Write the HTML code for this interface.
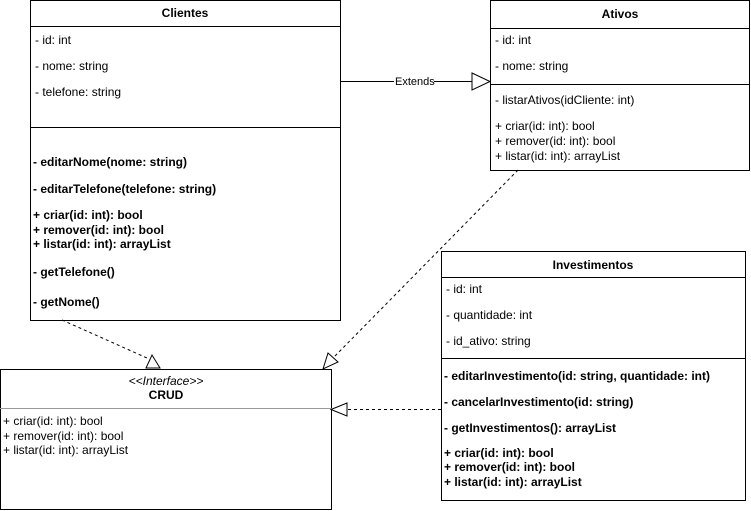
<!DOCTYPE html>
<html><head><meta charset="utf-8"><style>
body{margin:0;background:#fff}
svg{display:block}
text{font-family:"Liberation Sans",Arial,sans-serif;font-size:12px;fill:#000}
.b{font-weight:bold}
</style></head><body>
<svg width="751" height="511" viewBox="0 0 751 511">
<g fill="#fff" stroke="#000" stroke-width="1">
<rect x="30.5" y="0.5" width="310" height="320"/>
<line x1="30" y1="26.5" x2="341" y2="26.5"/>
<line x1="30" y1="127.5" x2="341" y2="127.5"/>
<rect x="490.5" y="0.5" width="259" height="170"/>
<line x1="490" y1="28.5" x2="750" y2="28.5"/>
<line x1="490" y1="84.5" x2="750" y2="84.5"/>
<rect x="441.5" y="251.5" width="304" height="249"/>
<line x1="441" y1="277.5" x2="746" y2="277.5"/>
<line x1="441" y1="358.5" x2="746" y2="358.5"/>
<rect x="0.5" y="369.5" width="331" height="140"/>
</g>
<line x1="0" y1="408.5" x2="332" y2="408.5" stroke="#999"/>
<line x1="340" y1="81.5" x2="472" y2="81.5" stroke="#000"/>
<polygon points="472,73 490,81.5 472,90" fill="#fff" stroke="#000"/>
<rect x="394" y="75" width="40" height="12" fill="#fff"/>
<text x="395" y="85" style="font-size:11px">Extends</text>
<g stroke="#000" stroke-dasharray="3,3" fill="none">
<line x1="62" y1="320" x2="147" y2="358"/>
<line x1="518" y1="170" x2="334" y2="357"/>
<line x1="441" y1="409.5" x2="347" y2="409.5"/>
</g>
<polygon points="146,368 160,368 152,355" fill="#fff" stroke="#000"/>
<polygon points="323,369 328,353 338,362" fill="#fff" stroke="#000"/>
<polygon points="331,409.5 347,403 347,416" fill="#fff" stroke="#000"/>
<text x="185" y="17" class="b" text-anchor="middle">Clientes</text>
<text x="35" y="44">- id: int</text>
<text x="35" y="70">- nome: string</text>
<text x="35" y="96">- telefone:  string</text>
<text x="33" y="166" class="b">- editarNome(nome: string)</text>
<text x="33" y="193" class="b">- editarTelefone(telefone: string)</text>
<text x="33" y="219" class="b">+ criar(id: int): bool</text>
<text x="33" y="234" class="b">+ remover(id: int): bool</text>
<text x="33" y="248" class="b">+ listar(id: int): arrayList</text>
<text x="33" y="276" class="b">- getTelefone()</text>
<text x="33" y="306" class="b">- getNome()</text>
<text x="620" y="18" class="b" text-anchor="middle">Ativos</text>
<text x="495" y="44">- id: int</text>
<text x="495" y="70">- nome: string</text>
<text x="495" y="104">- listarAtivos(idCliente: int)</text>
<text x="495" y="130">+ criar(id: int): bool</text>
<text x="495" y="145">+ remover(id: int): bool</text>
<text x="495" y="160">+ listar(id: int): arrayList</text>
<text x="593" y="269" class="b" text-anchor="middle">Investimentos</text>
<text x="446" y="293">- id: int</text>
<text x="446" y="319">- quantidade: int</text>
<text x="446" y="345">- id_ativo: string</text>
<text x="444" y="380" class="b">- editarInvestimento(id: string, quantidade: int)</text>
<text x="444" y="406" class="b">- cancelarInvestimento(id: string)</text>
<text x="444" y="432" class="b">- getInvestimentos(): arrayList</text>
<text x="444" y="457" class="b">+ criar(id: int): bool</text>
<text x="444" y="471" class="b">+ remover(id: int): bool</text>
<text x="444" y="486" class="b">+ listar(id: int): arrayList</text>
<text x="166" y="385" text-anchor="middle" font-style="italic">&lt;&lt;Interface&gt;&gt;</text>
<text x="166" y="399" class="b" text-anchor="middle">CRUD</text>
<text x="3" y="425">+ criar(id: int): bool</text>
<text x="3" y="440">+ remover(id: int): bool</text>
<text x="3" y="454">+ listar(id: int): arrayList</text>
</svg>
</body></html>
